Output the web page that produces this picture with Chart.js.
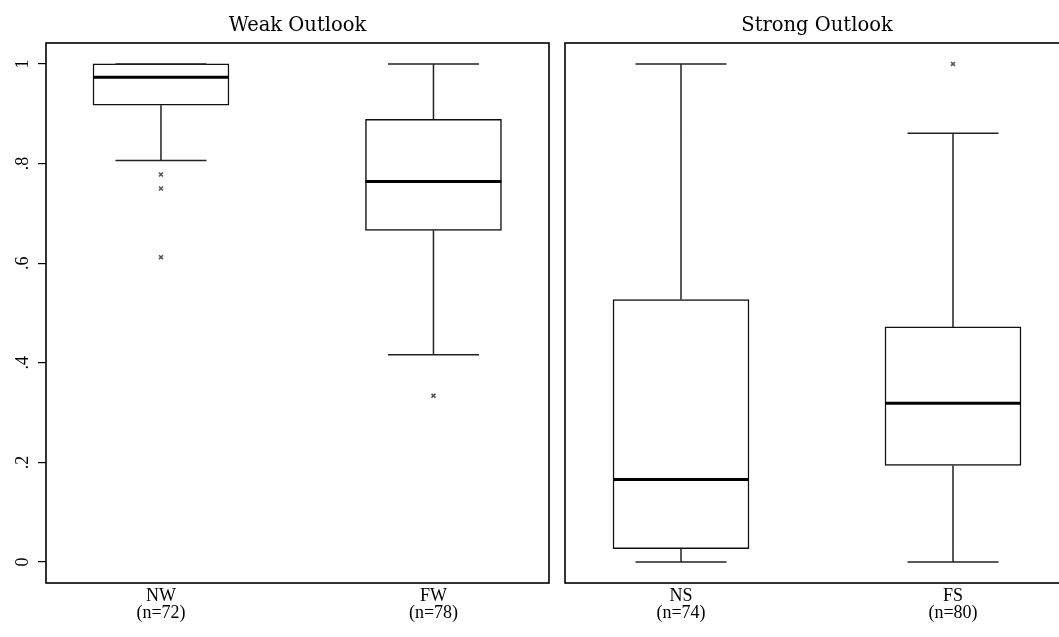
<!DOCTYPE html>
<html>
<head>
<meta charset="utf-8">
<script src="https://cdn.jsdelivr.net/npm/chart.js@4"></script>
<style>
  html, body { margin: 0; padding: 0; background: #fff; overflow: hidden; width: 1059px; height: 637px; }
  .panel { position: absolute; top: 0; }
  #weakPanel { left: 0; }
  #strongPanel { left: 556px; }
</style>
</head>
<body>
<div class="panel" id="weakPanel"><canvas id="weakChart" width="556" height="637"></canvas></div>
<div class="panel" id="strongPanel"><canvas id="strongChart" width="520" height="637"></canvas></div>
<script>
// y axis ticks
const yTickValues = [0, 0.2, 0.4, 0.6, 0.8, 1];
const yTickLabels = ['0', '.2', '.4', '.6', '.8', '1'];

// Weak Outlook panel
const weakLabels = ['NW', 'FW'];
const weakCounts = [72, 78];
const weakMin = [0.806, 0.416];
const weakQ1 = [0.917, 0.666];
const weakMedian = [0.973, 0.764];
const weakQ3 = [1.0, 0.889];
const weakMax = [1.0, 1.0];
const weakOutliers = [[0.778, 0.75, 0.612], [0.334]];

// Strong Outlook panel
const strongLabels = ['NS', 'FS'];
const strongCounts = [74, 80];
const strongMin = [0, 0];
const strongQ1 = [0.027, 0.194];
const strongMedian = [0.166, 0.319];
const strongQ3 = [0.527, 0.472];
const strongMax = [1.0, 0.861];
const strongOutliers = [[], [1.0]];

const serif = "'Liberation Serif', 'Times New Roman', serif";

const framePlugin = {
  id: 'frame',
  afterDatasetsDraw(chart) {
    const a = chart.chartArea;
    const ctx = chart.ctx;
    ctx.save();
    ctx.strokeStyle = '#000';
    ctx.lineWidth = 1.6;
    ctx.strokeRect(a.left, a.top, a.right - a.left, a.bottom - a.top);
    ctx.restore();
  }
};

function boxDatasets(min, q1, med, q3, max, outliers) {
  const pos = min.map((_, i) => i + 1);
  const whiskers = [];
  pos.forEach((x, i) => {
    whiskers.push({ x: x, y: q3[i] }, { x: x, y: max[i] }, { x: x, y: null });
    whiskers.push({ x: x, y: min[i] }, { x: x, y: q1[i] }, { x: x, y: null });
  });
  const caps = [];
  pos.forEach((x, i) => { caps.push({ x: x, y: min[i] }, { x: x, y: max[i] }); });
  const outs = [];
  pos.forEach((x, i) => { outliers[i].forEach(v => outs.push({ x: x, y: v })); });

  return [
    {
      type: 'scatter',
      data: pos.map((x, i) => ({ x: x, y: med[i] })),
      pointStyle: 'line',
      pointRadius: 68,
      borderColor: '#000',
      borderWidth: 3
    },
    {
      type: 'scatter',
      data: caps,
      pointStyle: 'line',
      pointRadius: 45.5,
      borderColor: '#222',
      borderWidth: 1.5
    },
    {
      type: 'scatter',
      data: outs,
      pointStyle: 'crossRot',
      pointRadius: 2.8,
      borderColor: '#555',
      borderWidth: 1.6
    },
    {
      type: 'bar',
      data: pos.map((x, i) => ({ x: x, y: [q1[i], q3[i]] })),
      backgroundColor: '#fff',
      borderColor: '#111',
      borderWidth: 1.5,
      borderSkipped: false,
      barThickness: 136
    },
    {
      type: 'line',
      data: whiskers,
      borderColor: '#222',
      borderWidth: 1.5,
      pointRadius: 0,
      spanGaps: false
    }
  ];
}

function noPad(s) {
  s.paddingLeft = 0;
  s.paddingRight = 0;
  s.paddingTop = 0;
  s.paddingBottom = 0;
}

function makeOptions(title, labels, counts, xMin, xMax, showY, padLeft) {
  return {
    responsive: false,
    animation: false,
    events: [],
    layout: { autoPadding: false, padding: { left: padLeft, right: 7, top: 0, bottom: 0 } },
    plugins: {
      legend: { display: false },
      tooltip: { enabled: false },
      title: {
        display: true,
        text: title,
        fullSize: false,
        color: '#000',
        font: { family: "'DejaVu Serif', serif", size: 19.5, weight: 'normal', lineHeight: '20px' },
        padding: { top: 16, bottom: 7 }
      }
    },
    scales: {
      x: {
        type: 'linear',
        offset: false,
        min: xMin,
        max: xMax,
        afterBuildTicks: s => { s.ticks = labels.map((_, i) => ({ value: i + 1 })); },
        afterFit: s => { s.height = 54; noPad(s); },
        ticks: {
          color: '#000',
          padding: -3,
          maxRotation: 0,
          font: { family: serif, size: 18, lineHeight: 0.95 },
          callback: (v, i) => [labels[i], '(n=' + counts[i] + ')']
        },
        grid: { display: false },
        border: { display: false }
      },
      y: {
        display: showY,
        min: -0.042,
        max: 1.042,
        afterBuildTicks: s => { s.ticks = yTickValues.map(v => ({ value: v })); },
        afterFit: s => { s.width = showY ? 46 : 0; noPad(s); },
        ticks: {
          color: '#000',
          minRotation: 90,
          maxRotation: 90,
          crossAlign: 'center',
          padding: 8,
          font: { family: serif, size: 18 },
          callback: (v, i) => yTickLabels[i]
        },
        grid: { drawOnChartArea: false, drawTicks: true, tickLength: 8, color: '#000', lineWidth: 1.2 },
        border: { display: false }
      }
    }
  };
}

new Chart(document.getElementById('weakChart'), {
  data: { datasets: boxDatasets(weakMin, weakQ1, weakMedian, weakQ3, weakMax, weakOutliers) },
  options: makeOptions('Weak Outlook', weakLabels, weakCounts, 0.578, 2.424, true, 0),
  plugins: [framePlugin]
});

new Chart(document.getElementById('strongChart'), {
  data: { datasets: boxDatasets(strongMin, strongQ1, strongMedian, strongQ3, strongMax, strongOutliers) },
  options: makeOptions('Strong Outlook', strongLabels, strongCounts, 0.5735, 2.4265, false, 9),
  plugins: [framePlugin]
});
</script>
</body>
</html>
